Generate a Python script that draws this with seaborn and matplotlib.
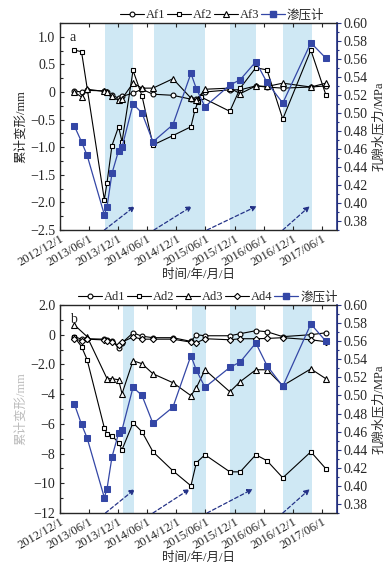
import matplotlib
matplotlib.use('Agg')
import matplotlib.pyplot as plt
from matplotlib.lines import Line2D
from matplotlib.ticker import MultipleLocator
import seaborn as sns
import pandas as pd

# survey dates (shared by most series)
dates = ["2013-02-28", "2013-04-15", "2013-05-20", "2013-09-05", "2013-09-22", "2013-10-23",
         "2013-12-03", "2013-12-25", "2014-03-04", "2014-04-29", "2014-07-07", "2014-11-09",
         "2015-03-02", "2015-04-05", "2015-05-29", "2015-11-01", "2016-01-05", "2016-04-12",
         "2016-06-21", "2016-09-28", "2017-03-23", "2017-06-25"]

# panel a
af1 = [0.02, 0.0, 0.03, 0.02, 0.0, -0.06, -0.11, -0.08, -0.02, 0.05, -0.04, -0.06,
       -0.13, -0.12, 0.0, 0.04, 0.04, 0.11, 0.09, 0.07, 0.09, 0.11]
af2_dates = ["2013-02-28", "2013-04-15", "2013-09-05", "2013-09-22", "2013-10-23", "2013-12-03",
             "2013-12-25", "2014-03-04", "2014-04-29", "2014-07-07", "2014-11-09", "2015-03-02",
             "2015-03-27", "2015-04-15", "2015-05-04", "2015-11-01", "2016-01-05", "2016-04-12",
             "2016-06-21", "2016-09-28", "2017-03-23", "2017-06-25"]
af2 = [0.76, 0.73, -1.95, -1.64, -0.97, -0.63, -0.90, 0.39, -0.07, -0.96, -0.79, -0.63,
       -0.33, -0.18, -0.09, -0.35, 0.07, 0.44, 0.40, -0.49, 0.76, -0.05]
af3 = [0.0, -0.09, 0.05, 0.01, 0.0, -0.08, -0.15, -0.12, 0.16, 0.07, 0.07, 0.24,
       -0.11, -0.15, 0.05, 0.07, -0.03, 0.11, 0.10, 0.16, 0.09, 0.16]
piezo_a = [0.486, 0.468, 0.453, 0.387, 0.396, 0.433, 0.458, 0.462, 0.510, 0.500, 0.468, 0.487,
           0.544, 0.527, 0.507, 0.531, 0.537, 0.557, 0.534, 0.511, 0.578, 0.561]

# panel b
ad1 = [-0.13, -0.30, -0.27, -0.30, -0.35, -0.40, -0.88, -0.55, 0.13, -0.10, -0.20, -0.20,
       -0.45, 0.0, -0.07, -0.07, 0.07, 0.27, 0.20, -0.13, 0.0, 0.13]
ad2 = [-0.13, -0.80, -1.68, -6.27, -6.67, -6.80, -7.27, -7.74, -5.93, -6.53, -7.88, -9.16,
       -10.17, -8.62, -8.08, -9.23, -9.23, -8.08, -8.48, -9.63, -7.88, -9.02]
ad3_dates = ["2013-02-28", "2013-05-20", "2013-09-22", "2013-10-23", "2013-12-03", "2013-12-25",
             "2014-03-04", "2014-04-29", "2014-07-07", "2014-11-09", "2015-03-02", "2015-04-05",
             "2015-05-29", "2015-11-01", "2016-01-05", "2016-04-12", "2016-06-21", "2016-09-28",
             "2017-03-23", "2017-06-25"]
ad3 = [0.67, -0.13, -2.96, -2.96, -3.03, -3.97, -1.75, -1.95, -2.63, -3.23, -4.10, -3.57,
       -2.36, -3.84, -3.16, -2.36, -2.36, -3.43, -2.30, -2.96]
ad4 = [-0.30, -0.40, -0.30, -0.35, -0.40, -0.50, -0.70, -0.50, -0.15, -0.30, -0.30, -0.30,
       -0.50, -0.55, -0.27, -0.34, -0.27, -0.27, -0.25, -0.20, -0.34, -0.47]
piezo_b = [0.491, 0.468, 0.453, 0.387, 0.397, 0.432, 0.458, 0.462, 0.509, 0.500, 0.469, 0.487,
           0.544, 0.528, 0.509, 0.531, 0.537, 0.558, 0.533, 0.510, 0.579, 0.560]

# shaded periods and rising-trend arrows
bands_a = [("2013-09-09", "2014-03-04"), ("2014-07-13", "2015-05-29"),
           ("2015-11-01", "2016-04-12"), ("2016-09-28", "2017-03-29")]
bands_b = [("2013-12-31", "2014-03-10"), ("2015-03-09", "2015-06-04"),
           ("2015-11-05", "2016-04-12"), ("2016-09-28", "2017-03-29")]
arrows_a = [("2013-09-05", "2014-03-16"), ("2014-07-13", "2015-03-09"),
            ("2015-06-11", "2016-04-18"), ("2016-09-28", "2017-03-16")]
arrows_b = [("2013-09-12", "2014-03-16"), ("2014-07-07", "2015-02-23"),
            ("2015-06-11", "2016-03-24"), ("2016-09-28", "2017-03-16")]

xticks = pd.date_range("2012-12-01", "2017-06-01", freq="6MS")
xtick_labels = [f"{d.year}/{d.month:02d}/1" for d in xticks]

sns.set_style('ticks')
plt.rcParams['font.family'] = ['Liberation Serif', 'Noto Sans CJK SC']

BLUE = '#3447a6'
SPINE_BLUE = '#243287'
BAND = '#cfe8f4'
MARKERS = {'o': 'o', 's': 's', '^': '^', 'D': 'D'}


def fmt(v):
    s = f"{v:.1f}" if abs(v) < 3 else f"{v:.0f}"
    if abs(v) < 1e-9:
        s = "0"
    return s.replace('-', '\u2212')


def draw_panel(ax, series, piezo, bands, arrows, ylim, yticks, minor, tag, ylab_color, legend_xy):
    for a, b in bands:
        ax.axvspan(pd.Timestamp(a), pd.Timestamp(b), color=BAND, lw=0, zorder=0)
    handles = []
    for name, d, v, m, ms in series:
        df = pd.DataFrame({'date': pd.to_datetime(d), 'val': v})
        sns.lineplot(data=df, x='date', y='val', ax=ax, color='black', lw=0.8, marker=m,
                     markersize=ms, markerfacecolor='white', markeredgecolor='black',
                     markeredgewidth=0.8, sort=False, estimator=None, zorder=3)
        handles.append(Line2D([], [], color='black', lw=0.8, marker=m, markersize=ms,
                              markerfacecolor='white', markeredgecolor='black',
                              markeredgewidth=0.8, label=name))
    for a, b in arrows:
        ax.annotate('', xy=(pd.Timestamp(b), 0.115), xytext=(pd.Timestamp(a), 0.0),
                    xycoords=('data', 'axes fraction'), textcoords=('data', 'axes fraction'),
                    arrowprops=dict(arrowstyle='-|>', linestyle=(0, (3, 2)), color=SPINE_BLUE,
                                    lw=0.9, mutation_scale=8, shrinkA=0, shrinkB=0))
    ax.set_xlim(pd.Timestamp("2012-12-01"), pd.Timestamp("2017-09-03"))
    ax.set_ylim(*ylim)
    ax.set_xticks(xticks)
    ax.set_xticklabels(xtick_labels, rotation=30, ha='right', rotation_mode='anchor', fontsize=9)
    ax.set_yticks(yticks)
    ax.set_yticklabels([fmt(t) for t in yticks], fontsize=10)
    ax.yaxis.set_minor_locator(MultipleLocator(minor))
    ax.tick_params(axis='both', which='both', direction='in', top=True, length=3, width=0.8)
    ax.tick_params(axis='y', which='minor', length=2)
    ax.tick_params(axis='x', pad=2)
    ax.set_xlabel('时间/年/月/日', fontsize=9, labelpad=0)
    ax.set_ylabel('累计变形/mm', fontsize=9, color=ylab_color, labelpad=2)
    for s in ['left', 'top', 'bottom']:
        ax.spines[s].set_linewidth(0.9)
        ax.spines[s].set_color('black')
    ax.text(0.035, 0.93, tag, transform=ax.transAxes, fontsize=10, va='center')

    ax2 = ax.twinx()
    pdf = pd.DataFrame({'date': pd.to_datetime(dates), 'val': piezo})
    sns.lineplot(data=pdf, x='date', y='val', ax=ax2, color=BLUE, lw=0.9, marker='s',
                 markersize=4.5, markerfacecolor=BLUE, markeredgecolor=BLUE,
                 sort=False, estimator=None, zorder=4)
    ax2.set_ylim(0.37, 0.60)
    rt = [0.38 + 0.02 * i for i in range(12)]
    ax2.set_yticks(rt)
    ax2.set_yticklabels([f"{t:.2f}" for t in rt], fontsize=10)
    ax2.yaxis.set_minor_locator(MultipleLocator(0.01))
    ax2.tick_params(axis='y', which='both', direction='out', length=3, width=0.8,
                    color=SPINE_BLUE, pad=2)
    ax2.tick_params(axis='y', which='minor', length=1.5)
    ax2.spines['right'].set_color(SPINE_BLUE)
    ax2.spines['right'].set_linewidth(1.2)
    ax2.set_ylabel('孔隙水压力/MPa', fontsize=9, labelpad=3)
    ax2.set_xlabel('')
    ax.set_xlabel('时间/年/月/日', fontsize=9, labelpad=0)
    handles.append(Line2D([], [], color=BLUE, lw=0.9, marker='s', markersize=4.5,
                          markerfacecolor=BLUE, markeredgecolor=BLUE, label='渗压计'))
    fig.legend(handles=handles, loc='center', bbox_to_anchor=legend_xy, ncol=len(handles),
               frameon=False, fontsize=9, handlelength=1.9, handletextpad=0.15,
               columnspacing=0.15, borderpad=0, numpoints=1)


fig = plt.figure(figsize=(3.91, 5.71), dpi=100)
ax_a = fig.add_axes([60 / 391, 1 - 230 / 571, 277 / 391, 207 / 571])
ax_b = fig.add_axes([60 / 391, 1 - 513 / 571, 277 / 391, 208 / 571])

draw_panel(ax_a,
           [('Af1', dates, af1, 'o', 3.5), ('Af2', af2_dates, af2, 's', 3.5),
            ('Af3', dates, af3, '^', 4)],
           piezo_a, bands_a, arrows_a, (-2.5, 1.25),
           [-2.5, -2.0, -1.5, -1.0, -0.5, 0.0, 0.5, 1.0], 0.25, 'a', '#222222',
           (222 / 391, 1 - 15 / 571))
draw_panel(ax_b,
           [('Ad1', dates, ad1, 'o', 3.5), ('Ad2', dates, ad2, 's', 3.5),
            ('Ad3', ad3_dates, ad3, '^', 4), ('Ad4', dates, ad4, 'D', 3.2)],
           piezo_b, bands_b, arrows_b, (-12, 2),
           [-12, -10, -8, -6, -4, -2, 0, 2], 1, 'b', '#bbbbbb',
           (208 / 391, 1 - 297 / 571))

fig.savefig('out.png', dpi=100)
